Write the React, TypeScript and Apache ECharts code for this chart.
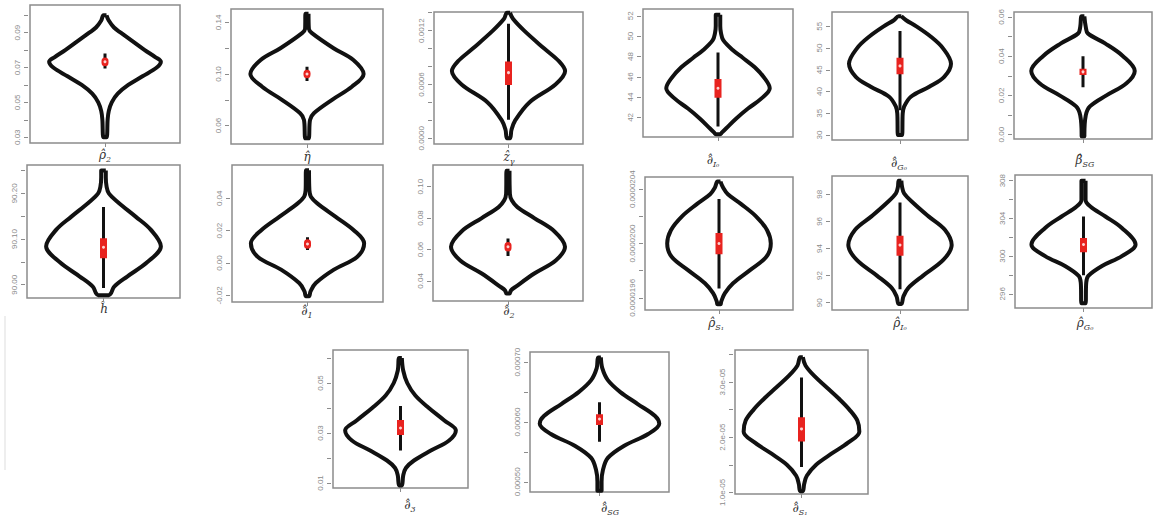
import React, { useEffect, useRef } from 'react';
import * as echarts from 'echarts';

// ---- Row 1 ----
const rho2Violin = [[0.1, 0.02], [0.097, 0.05], [0.093, 0.12], [0.09, 0.21], [0.085, 0.37], [0.08, 0.53], [0.076, 0.67], [0.0733, 0.745], [0.07, 0.69], [0.065, 0.5], [0.06, 0.31], [0.055, 0.17], [0.05, 0.09], [0.045, 0.05], [0.04, 0.035], [0.03, 0.02]];
const rho2Box = [0.0695, 0.0728, 0.0733, 0.0738, 0.0781];
const rho2Ticks = [0.03, 0.04, 0.05, 0.06, 0.07, 0.08, 0.09, 0.1];
const rho2Labels = ['0.03', '0.05', '0.07', '0.09'];

const etaViolin = [[0.1468, 0.02], [0.135, 0.025], [0.1317, 0.065], [0.12, 0.35], [0.1109, 0.61], [0.1, 0.745], [0.0901, 0.59], [0.08, 0.33], [0.0696, 0.09], [0.0644, 0.04], [0.0501, 0.02]];
const etaBox = [0.0945, 0.0995, 0.1, 0.1005, 0.1057];
const etaTicks = [0.06, 0.08, 0.1, 0.12, 0.14];
const etaLabels = ['0.06', '0.10', '0.14'];

const zgViolin = [[0.0014, 0.02], [0.001332, 0.06], [0.0012, 0.21], [0.001, 0.48], [0.000857, 0.68], [0.00075, 0.76], [0.0006, 0.63], [0.0004, 0.28], [0.0002, 0.09], [0.000095, 0.04], [0.0, 0.02]];
const zgBox = [0.000206, 0.000594, 0.000732, 0.000856, 0.001276];
const zgTicks = [0.0, 0.0002, 0.0004, 0.0006, 0.0008, 0.001, 0.0012, 0.0014];
const zgLabels = ['0.0000', '0.0006', '0.0012'];

const dI0Violin = [[52.1, 0.03], [51.0, 0.03], [50.3, 0.04], [49.6, 0.07], [48.6, 0.2], [47.87, 0.33], [46.93, 0.49], [45.87, 0.62], [44.87, 0.69], [43.87, 0.58], [42.87, 0.4], [41.87, 0.24], [40.93, 0.11], [40.5, 0.05], [40.35, 0.03]];
const dI0Box = [41.1, 43.93, 44.87, 45.77, 48.4];
const dI0Ticks = [42, 44, 46, 48, 50, 52];
const dI0Labels = ['42', '44', '46', '48', '50', '52'];

const dG0Violin = [[57.3, 0.02], [56.4, 0.09], [55.0, 0.24], [52.55, 0.46], [50.0, 0.63], [46.4, 0.75], [43.4, 0.65], [41.1, 0.43], [38.8, 0.16], [36.5, 0.06], [35.0, 0.04], [30.0, 0.03]];
const dG0Box = [35.7, 44.0, 45.9, 47.8, 53.9];
const dG0Ticks = [30, 35, 40, 45, 50, 55];
const dG0Labels = ['30', '35', '40', '45', '50', '55'];

const bSGViolin = [[0.0603, 0.02], [0.0549, 0.04], [0.0516, 0.07], [0.0465, 0.32], [0.04, 0.58], [0.0325, 0.75], [0.0262, 0.63], [0.02, 0.34], [0.0144, 0.1], [0.0098, 0.04], [0.0, 0.02], [-0.0008, 0.02]];
const bSGBox = [0.0242, 0.0304, 0.032, 0.0336, 0.04];
const bSGTicks = [0.0, 0.01, 0.02, 0.03, 0.04, 0.05, 0.06];
const bSGLabels = ['0.00', '0.02', '0.04', '0.06'];

// ---- Row 2 ----
const hViolin = [[90.25, 0.03], [90.235, 0.03], [90.215, 0.04], [90.2, 0.07], [90.179, 0.2], [90.149, 0.42], [90.12, 0.62], [90.084, 0.75], [90.049, 0.57], [90.018, 0.31], [89.996, 0.14], [89.982, 0.1], [89.977, 0.07]];
const hBox = [89.993, 90.058, 90.082, 90.102, 90.17];
const hTicks = [90.0, 90.05, 90.1, 90.15, 90.2, 90.25];
const hLabels = ['90.00', '90.10', '90.20'];

const d1Violin = [[0.0573, 0.02], [0.045, 0.025], [0.041, 0.045], [0.0369, 0.13], [0.0287, 0.37], [0.02, 0.62], [0.0122, 0.75], [0.0039, 0.66], [-0.0041, 0.35], [-0.0124, 0.11], [-0.0175, 0.04], [-0.0206, 0.02]];
const d1Box = [0.008, 0.011, 0.0118, 0.0126, 0.0159];
const d1Ticks = [-0.02, 0.0, 0.02, 0.04];
const d1Labels = ['-0.02', '0.00', '0.02', '0.04'];

const d2Violin = [[0.1102, 0.02], [0.0955, 0.025], [0.0913, 0.05], [0.087, 0.125], [0.08, 0.35], [0.0715, 0.62], [0.0617, 0.76], [0.0532, 0.64], [0.0447, 0.35], [0.0362, 0.1], [0.034, 0.04], [0.0319, 0.02]];
const d2Box = [0.0559, 0.061, 0.0617, 0.0625, 0.067];
const d2Ticks = [0.04, 0.06, 0.08, 0.1];
const d2Labels = ['0.04', '0.06', '0.08', '0.10'];

const rS1Violin = [[2.0456e-5, 0.02], [2.0412e-5, 0.055], [2.0363e-5, 0.12], [2.029e-5, 0.3], [2.02e-5, 0.5], [2.0098e-5, 0.65], [2.0e-5, 0.7], [1.9902e-5, 0.64], [1.98e-5, 0.41], [1.9707e-5, 0.19], [1.9634e-5, 0.08], [1.9573e-5, 0.03], [1.9553e-5, 0.02]];
const rS1Box = [1.9668e-5, 1.992e-5, 2.0e-5, 2.0078e-5, 2.0327e-5];
const rS1Ticks = [1.96e-5, 1.98e-5, 2.0e-5, 2.02e-5, 2.04e-5];
const rS1Labels = ['0.0000196', '0.0000200', '0.0000204'];

const rI0Violin = [[99.0, 0.02], [98.56, 0.03], [98.07, 0.06], [97.34, 0.2], [96.37, 0.42], [95.38, 0.66], [94.25, 0.76], [93.17, 0.64], [92.0, 0.34], [91.08, 0.12], [90.46, 0.05], [89.91, 0.02]];
const rI0Box = [91.0, 93.46, 94.25, 94.94, 97.4];
const rI0Ticks = [90, 92, 94, 96, 98];
const rI0Labels = ['90', '92', '94', '96', '98'];

const rG0Violin = [[308.0, 0.03], [305.96, 0.03], [305.26, 0.1], [304.2, 0.32], [302.98, 0.56], [301.23, 0.76], [300.0, 0.56], [298.95, 0.27], [297.9, 0.07], [297.2, 0.04], [295.0, 0.03]];
const rG0Box = [297.96, 300.42, 301.23, 301.93, 304.2];
const rG0Ticks = [296, 298, 300, 302, 304, 306, 308];
const rG0Labels = ['296', '300', '304', '308'];

// ---- Row 3 ----
const d3Violin = [[0.06, 0.02], [0.055, 0.04], [0.05, 0.1], [0.045, 0.22], [0.04, 0.42], [0.035, 0.65], [0.031, 0.82], [0.027, 0.72], [0.023, 0.45], [0.019, 0.2], [0.016, 0.08], [0.013, 0.04], [0.009, 0.02]];
const d3Box = [0.023, 0.0292, 0.032, 0.0352, 0.0408];
const d3Ticks = [0.01, 0.02, 0.03, 0.04, 0.05, 0.06];
const d3Labels = ['0.01', '0.03', '0.05'];

const dSGViolin = [[0.000708, 0.02], [0.00069, 0.04], [0.00067, 0.12], [0.00065, 0.3], [0.00063, 0.55], [0.00061, 0.8], [0.000597, 0.86], [0.00058, 0.7], [0.00056, 0.35], [0.00054, 0.12], [0.00052, 0.05], [0.0005, 0.03], [0.000485, 0.03]];
const dSGBox = [0.000567, 0.000595, 0.000605, 0.000613, 0.000633];
const dSGTicks = [0.0005, 0.00055, 0.0006, 0.00065, 0.0007];
const dSGLabels = ['0.00050', '0.00060', '0.00070'];

const dS1Violin = [[3.45e-5, 0.02], [3.3e-5, 0.06], [3.1e-5, 0.2], [2.9e-5, 0.38], [2.7e-5, 0.56], [2.5e-5, 0.72], [2.3e-5, 0.84], [2.1e-5, 0.87], [1.9e-5, 0.7], [1.7e-5, 0.45], [1.5e-5, 0.22], [1.3e-5, 0.08], [1.15e-5, 0.04], [1.02e-5, 0.02]];
const dS1Box = [1.46e-5, 1.92e-5, 2.15e-5, 2.36e-5, 3.08e-5];
const dS1Ticks = [1.0e-5, 1.5e-5, 2.0e-5, 2.5e-5, 3.0e-5, 3.5e-5];
const dS1Labels = ['1.0e-05', '2.0e-05', '3.0e-05'];

type Panel = {
  violin: number[][]; box: number[]; ticks: number[]; labels: string[];
  range: number[]; name: string[]; rect: number[]; label: number[];
};

const panels: Panel[] = [
  { violin: rho2Violin, box: rho2Box, ticks: rho2Ticks, labels: rho2Labels, range: [0.0267, 0.1059], name: ['ρ̂', '2'], rect: [30, 5, 150, 138], label: [105, 155] },
  { violin: etaViolin, box: etaBox, ticks: etaTicks, labels: etaLabels, range: [0.0457, 0.1504], name: ['η̂', ''], rect: [231, 9, 152, 135], label: [307, 157] },
  { violin: zgViolin, box: zgBox, ticks: zgTicks, labels: zgLabels, range: [-0.0000638, 0.001408], name: ['ẑ', 'γ'], rect: [434, 12, 149, 132], label: [509, 157] },
  { violin: dI0Violin, box: dI0Box, ticks: dI0Ticks, labels: dI0Labels, range: [40.07, 52.67], name: ['∂̂', 'I₀'], rect: [643, 9, 150, 128], label: [713, 160] },
  { violin: dG0Violin, box: dG0Box, ticks: dG0Ticks, labels: dG0Labels, range: [28.85, 58.3], name: ['∂̂', 'G₀'], rect: [832, 12, 136, 128], label: [899, 163] },
  { violin: bSGViolin, box: bSGBox, ticks: bSGTicks, labels: bSGLabels, range: [-0.0022, 0.0625], name: ['β̂', 'SG'], rect: [1014, 12, 138, 127], label: [1085, 160] },
  { violin: hViolin, box: hBox, ticks: hTicks, labels: hLabels, range: [89.971, 90.262], name: ['ĥ', ''], rect: [27, 165, 153, 133], label: [104, 309] },
  { violin: d1Violin, box: d1Box, ticks: d1Ticks, labels: d1Labels, range: [-0.0241, 0.0606], name: ['∂̂', '1'], rect: [232, 165, 151, 137], label: [307, 311] },
  { violin: d2Violin, box: d2Box, ticks: d2Ticks, labels: d2Labels, range: [0.0272, 0.1138], name: ['∂̂', '2'], rect: [433, 165, 150, 136], label: [509, 311] },
  { violin: rS1Violin, box: rS1Box, ticks: rS1Ticks, labels: rS1Labels, range: [1.951e-5, 2.049e-5], name: ['ρ̂', 'S₁'], rect: [645, 177, 148, 133], label: [716, 323] },
  { violin: rI0Violin, box: rI0Box, ticks: rI0Ticks, labels: rI0Labels, range: [89.46, 99.35], name: ['ρ̂', 'I₀'], rect: [832, 176, 136, 134], label: [900, 323] },
  { violin: rG0Violin, box: rG0Box, ticks: rG0Ticks, labels: rG0Labels, range: [294.5, 308.6], name: ['ρ̂', 'G₀'], rect: [1015, 175, 137, 133], label: [1085, 323] },
  { violin: d3Violin, box: d3Box, ticks: d3Ticks, labels: d3Labels, range: [0.008, 0.0632], name: ['∂̂', '3'], rect: [333, 350, 135, 138], label: [410, 505] },
  { violin: dSGViolin, box: dSGBox, ticks: dSGTicks, labels: dSGLabels, range: [0.000483, 0.000717], name: ['∂̂', 'SG'], rect: [530, 352, 139, 140], label: [610, 508] },
  { violin: dS1Violin, box: dS1Box, ticks: dS1Ticks, labels: dS1Labels, range: [0.97e-5, 3.58e-5], name: ['∂̂', 'S₁'], rect: [735, 350, 133, 144], label: [800, 508] },
];

const GRAY = '#8c8c8c';

function buildOption() {
  const grid: any[] = [];
  const xAxis: any[] = [];
  const yAxis: any[] = [];
  const series: any[] = [];
  const graphic: any[] = [];

  panels.forEach((p, i) => {
    grid.push({
      left: p.rect[0], top: p.rect[1], width: p.rect[2], height: p.rect[3],
      show: true, borderColor: GRAY, borderWidth: 1.5, backgroundColor: 'transparent',
      containLabel: false, outerBoundsMode: 'none',
    });
    xAxis.push({
      type: 'value', gridIndex: i, min: -1, max: 1, position: 'bottom',
      axisLine: { show: false, onZero: false }, axisLabel: { show: false }, splitLine: { show: false },
      axisTick: { show: true, customValues: [0], length: 4, lineStyle: { color: GRAY } },
    });
    const labelVals = p.labels.map(Number);
    yAxis.push({
      type: 'value', gridIndex: i, min: p.range[0], max: p.range[1], offset: 2, position: 'left',
      axisLine: { show: false, onZero: false }, splitLine: { show: false },
      axisTick: { show: true, customValues: p.ticks, length: 4, lineStyle: { color: GRAY } },
      axisLabel: {
        show: true, customValues: labelVals, rotate: 90, fontSize: 8, color: '#8a8a8a', margin: 7,
        fontFamily: 'Liberation Sans',
        formatter: (v: number) => {
          let best = 0;
          labelVals.forEach((lv, k) => { if (Math.abs(lv - v) < Math.abs(labelVals[best] - v)) best = k; });
          return p.labels[best];
        },
      },
    });

    const right = p.violin.map(([y, w]) => [w, y]);
    const left = p.violin.slice().reverse().map(([y, w]) => [-w, y]);
    const outline = right.concat(left, [right[0]]);
    series.push({
      type: 'line', xAxisIndex: i, yAxisIndex: i, data: outline, showSymbol: false, symbol: 'none',
      smooth: 0.35, lineStyle: { color: '#111', width: 4, join: 'round' }, silent: true, z: 2,
    });
    const [lo, q1, med, q3, hi] = p.box;
    series.push({
      type: 'line', xAxisIndex: i, yAxisIndex: i, data: [[0, lo], [0, hi]], symbol: 'none',
      lineStyle: { color: '#111', width: 3, cap: 'butt' }, silent: true, z: 3,
    });
    const pxLen = ((q3 - q1) / (p.range[1] - p.range[0])) * p.rect[3];
    series.push({
      type: 'line', xAxisIndex: i, yAxisIndex: i, data: [[0, q1], [0, q3]], symbol: 'none',
      lineStyle: { color: '#e8231f', width: 7, cap: pxLen < 4 ? 'round' : 'butt' }, silent: true, z: 4,
    });
    series.push({
      type: 'scatter', xAxisIndex: i, yAxisIndex: i, data: [[0, med]], symbol: 'circle', symbolSize: 3,
      itemStyle: { color: '#ffffff' }, silent: true, z: 5,
    });

    const text = p.name[1] ? `{m|${p.name[0]}}{s|${p.name[1]}}` : `{m|${p.name[0]}}`;
    graphic.push({
      type: 'text', x: p.label[0], y: p.label[1], silent: true,
      style: {
        text, align: 'center', verticalAlign: 'middle', fill: '#333',
        rich: {
          m: { fontSize: 12, fontFamily: 'DejaVu Serif', fontStyle: 'italic', fill: '#333', color: '#333', lineHeight: 16 },
          s: { fontSize: 8, fontFamily: 'DejaVu Serif', fontStyle: 'italic', fill: '#333', color: '#333', verticalAlign: 'bottom' },
        },
      },
    });
  });

  graphic.push({
    type: 'line', shape: { x1: 5, y1: 316, x2: 5, y2: 470 }, silent: true,
    style: { stroke: '#dddddd', lineWidth: 1 },
  });

  return { animation: false, backgroundColor: '#ffffff', grid, xAxis, yAxis, series, graphic };
}

export default function App() {
  const ref = useRef<HTMLDivElement>(null);
  useEffect(() => {
    if (!ref.current) return;
    const chart = echarts.init(ref.current, undefined, { renderer: 'svg' });
    chart.setOption(buildOption() as any);
    return () => chart.dispose();
  }, []);
  return (
    <div
      ref={ref}
      style={{ position: 'fixed', left: 0, top: 0, width: 1159, height: 524, background: '#fff' }}
    />
  );
}
